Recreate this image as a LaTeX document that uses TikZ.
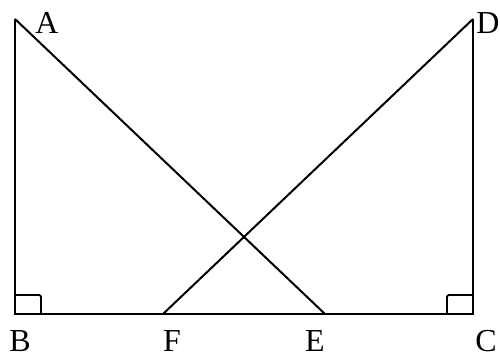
\documentclass[tikz,border=0pt]{standalone}
\usepackage{fontspec}
\setmainfont{Liberation Serif}
\begin{document}
\begin{tikzpicture}[x=1pt,y=-1pt,
  seg/.style={line width=2pt},
  lbl/.style={font=\fontsize{32}{32}\selectfont, inner sep=0pt, text depth=0pt, anchor=base},
  ra/.style={line width=1.8pt, rounded corners=2pt}]
\useasboundingbox (0,0) rectangle (500,359);
\coordinate (A) at (15,19);
\coordinate (B) at (15,314);
\coordinate (C) at (473,314);
\coordinate (D) at (473,19);
\coordinate (F) at (163,314);
\coordinate (E) at (325,314);
\draw[seg] (A) -- (B) -- (C) -- (D);
\draw[seg] (A) -- (E);
\draw[seg] (D) -- (F);
\draw[ra] (15,295) -- (41,295) -- (41,314);
\draw[ra] (473,295) -- (447,295) -- (447,314);
\node[lbl] (lA) at (47,33) {A};
\node[lbl] (lB) at (20,351) {B};
\node[lbl] (lF) at (172,351) {F};
\node[lbl] (lE) at (315,351) {E};
\node[lbl] (lC) at (486,351) {C};
\node[lbl] (lD) at (488,33) {D};
\end{tikzpicture}
\end{document}
